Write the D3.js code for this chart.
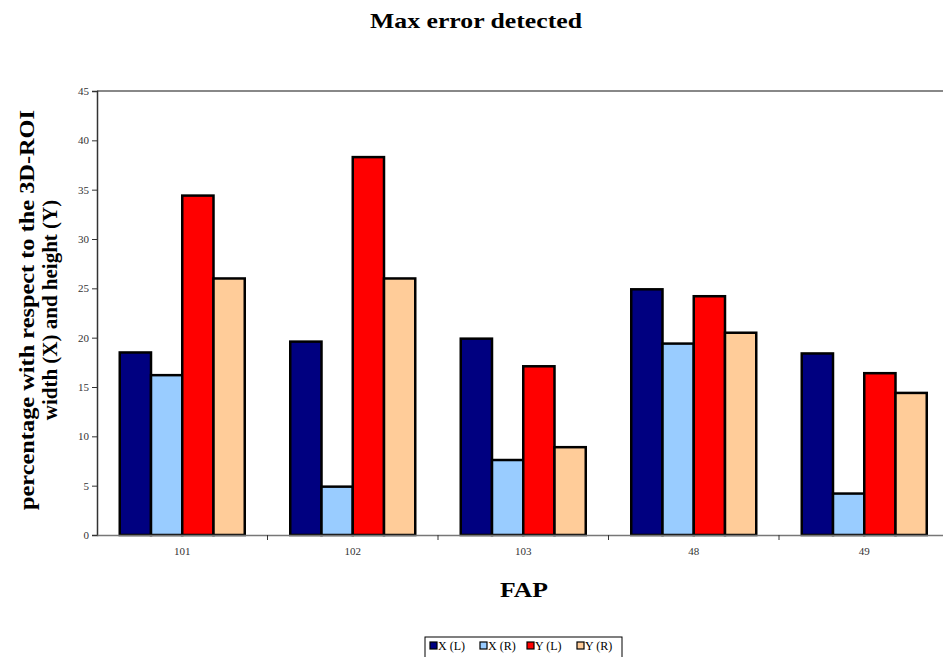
<!DOCTYPE html>
<html>
<head>
<meta charset="utf-8">
<script src="https://cdn.jsdelivr.net/npm/d3@7"></script>
<style>
  html, body { margin: 0; padding: 0; background: #fff; }
  svg { display: block; }
</style>
</head>
<body>
<svg id="chart" width="943" height="657"></svg>
<script>
const categories = ["101", "102", "103", "48", "49"];
const seriesNames = ["X (L)", "X (R)", "Y (L)", "Y (R)"];
const seriesColors = ["#000080", "#99ccff", "#ff0000", "#ffcc99"];
const xL = [18.5, 19.6, 19.9, 24.9, 18.4];
const xR = [16.2, 4.9, 7.6, 19.4, 4.2];
const yL = [34.4, 38.3, 17.1, 24.2, 16.4];
const yR = [26.0, 26.0, 8.9, 20.5, 14.4];
const yTicks = [0, 5, 10, 15, 20, 25, 30, 35, 40, 45];

(function () {
const seriesValues = [xL, xR, yL, yR];
const font = "'Liberation Serif', 'Times New Roman', serif";

const svg = d3.select("#chart");
const pLeft = 97, pRight = 949.5, pTop = 91, pBottom = 535;

const x = d3.scaleBand().domain(categories).range([pLeft, pRight]).paddingInner(0).paddingOuter(0);
const x1 = d3.scaleBand().domain(seriesNames).range([0, x.bandwidth()]).paddingInner(0).paddingOuter(0.728);
const y = d3.scaleLinear().domain([0, 45]).range([pBottom, pTop]);

// top border line
svg.append("line").attr("x1", pLeft).attr("x2", 943).attr("y1", pTop).attr("y2", pTop)
  .attr("stroke", "#888").attr("stroke-width", 2);

// bars
const groups = svg.append("g").selectAll("g").data(categories).join("g")
  .attr("transform", d => `translate(${x(d)},0)`);
groups.selectAll("rect").data((c, ci) => seriesNames.map((s, si) => ({s, si, v: seriesValues[si][ci]})))
  .join("rect")
  .attr("x", d => x1(d.s))
  .attr("width", x1.bandwidth())
  .attr("y", d => y(d.v))
  .attr("height", d => y(0) - y(d.v))
  .attr("fill", d => seriesColors[d.si])
  .attr("stroke", "#000").attr("stroke-width", 2.5);

// y axis
const yAxis = svg.append("g").attr("transform", `translate(${pLeft},0)`)
  .call(d3.axisLeft(y).tickValues(yTicks).tickSize(5).tickPadding(3));
yAxis.select(".domain").attr("stroke", "#333").attr("stroke-width", 1.5);
yAxis.selectAll(".tick line").attr("stroke", "#333");
yAxis.selectAll(".tick text").attr("font-family", font).attr("font-size", 11).attr("fill", "#333");

// x axis
const xAxis = svg.append("g").attr("transform", `translate(0,${pBottom})`)
  .call(d3.axisBottom(x).tickSize(0).tickPadding(12));
xAxis.select(".domain").attr("stroke", "#777").attr("stroke-width", 1.5);
xAxis.selectAll(".tick text").attr("font-family", font).attr("font-size", 11).attr("fill", "#333");
// band boundary ticks
svg.append("g").selectAll("line").data(categories.slice(1)).join("line")
  .attr("x1", d => x(d)).attr("x2", d => x(d))
  .attr("y1", pBottom).attr("y2", pBottom + 5)
  .attr("stroke", "#333");

// title
svg.append("text").attr("x", 476).attr("y", 28).attr("text-anchor", "middle")
  .attr("font-family", font).attr("font-weight", "bold").attr("font-size", 22)
  .attr("textLength", 212).attr("lengthAdjust", "spacingAndGlyphs")
  .text("Max error detected");

// y title
const yt = svg.append("text").attr("transform", "translate(0,310) rotate(-90)")
  .attr("text-anchor", "middle").attr("font-family", font).attr("font-weight", "bold").attr("font-size", 21);
yt.append("tspan").attr("x", 0).attr("y", 34)
  .attr("textLength", 400).attr("lengthAdjust", "spacingAndGlyphs")
  .text("percentage with respect to the 3D-ROI");
yt.append("tspan").attr("x", 0).attr("y", 57)
  .text("width (X) and height (Y)");

// x title
svg.append("text").attr("x", 524).attr("y", 597).attr("text-anchor", "middle")
  .attr("font-family", font).attr("font-weight", "bold").attr("font-size", 22)
  .attr("textLength", 48).attr("lengthAdjust", "spacingAndGlyphs")
  .text("FAP");

// legend
const lg = svg.append("g").attr("transform", "translate(425,637)");
lg.append("rect").attr("x", 0).attr("y", 0).attr("width", 197).attr("height", 24)
  .attr("fill", "#fff").attr("stroke", "#000").attr("stroke-width", 1);
const legendX = [5, 55, 102, 152];
const item = lg.selectAll("g.item").data(seriesNames).join("g").attr("class", "item")
  .attr("transform", (d, i) => `translate(${legendX[i]},0)`);
item.append("rect").attr("x", 0).attr("y", 5).attr("width", 7).attr("height", 7)
  .attr("fill", (d, i) => seriesColors[i]).attr("stroke", "#000").attr("stroke-width", 1.2);
item.append("text").attr("x", 8).attr("y", 13).attr("font-family", font).attr("font-size", 12)
  .attr("fill", "#000").text(d => d);
})();
</script>
</body>
</html>
